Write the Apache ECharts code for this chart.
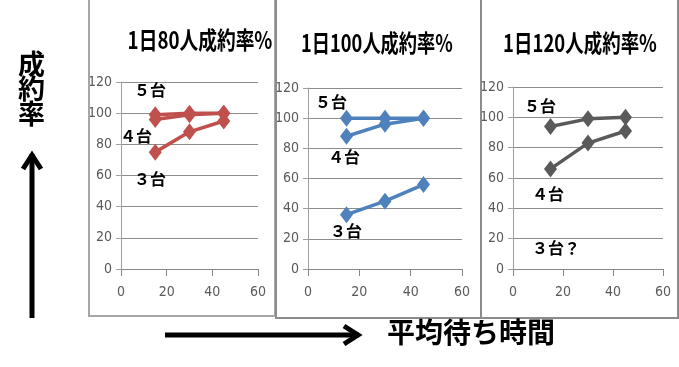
<!DOCTYPE html>
<html><head><meta charset="utf-8">
<script src="https://cdn.jsdelivr.net/npm/echarts@6/dist/echarts.min.js"></script>
<style>html,body{margin:0;padding:0;background:#fff}#c{width:679px;height:367px}</style>
</head><body><div id="c"></div>
<script>
const waitMinutes = [15, 30, 45];
const panelTitles = ['1日80人成約率%', '1日100人成約率%', '1日120人成約率%'];
const yTicks = [0, 20, 40, 60, 80, 100, 120];
const xTicks = [0, 20, 40, 60];
const p80_5 = [99, 100, 100];
const p80_4 = [96, 99, 100];
const p80_3 = [75, 88, 95];
const p100_5 = [100, 100, 100];
const p100_4 = [88, 96, 100];
const p100_3 = [36, 45, 56];
const p120_5 = [94, 99, 100];
const p120_4 = [66, 83, 91];
const annoTexts = ['５台', '４台', '３台', '３台？'];
const yAxisName = '成約率';
const xAxisName = '平均待ち時間';

const chart = echarts.init(document.getElementById('c'), null, {renderer: 'canvas'});
const grids = [
  {left: 121, right: 679 - 258, top: 82, bottom: 367 - 269},
  {left: 308, right: 679 - 462, top: 88, bottom: 367 - 269},
  {left: 513, right: 679 - 663, top: 87, bottom: 367 - 269}
];
const colors = ['#C0504D', '#4F81BD', '#5A5A5A'];
const tickFont = {color: '#595959', fontFamily: '"DejaVu Sans Condensed","Liberation Sans Narrow",sans-serif', fontSize: 14};
const xAxes = grids.map((g, i) => ({
  gridIndex: i, type: 'value', min: xTicks[0], max: xTicks[xTicks.length - 1], interval: 20,
  axisLine: {show: true, lineStyle: {color: '#868686', width: 1}},
  axisTick: {show: true, length: 7, lineStyle: {color: '#868686'}},
  splitLine: {show: false},
  axisLabel: Object.assign({margin: 16}, tickFont)
}));
const yAxes = grids.map((g, i) => ({
  gridIndex: i, type: 'value', min: yTicks[0], max: yTicks[yTicks.length - 1], interval: 20,
  axisLine: {show: true, lineStyle: {color: '#A0A0A0', width: 1}},
  axisTick: {show: true, length: 5, lineStyle: {color: '#A0A0A0'}},
  splitLine: {show: true, lineStyle: {color: '#8C8C8C', width: 1}},
  axisLabel: Object.assign({margin: 9}, tickFont)
}));
function mk(data, i) {
  return {
    type: 'line', xAxisIndex: i, yAxisIndex: i,
    data: waitMinutes.map((x, k) => [x, data[k]]),
    symbol: 'diamond', symbolSize: [13, 17],
    lineStyle: {color: colors[i], width: 3.5},
    itemStyle: {color: colors[i]},
    animation: false, z: 3
  };
}
const series = [
  mk(p80_5, 0), mk(p80_4, 0), mk(p80_3, 0),
  mk(p100_5, 1), mk(p100_4, 1), mk(p100_3, 1),
  mk(p120_5, 2), mk(p120_4, 2)
];
const titleStyle = {fill: '#000', font: 'bold 24px "Noto Sans CJK JP", sans-serif', textAlign: 'center', textVerticalAlign: 'middle'};
const annoStyle = {fill: '#000', font: 'bold 16px "Noto Sans CJK JP", sans-serif', textAlign: 'left', textVerticalAlign: 'middle'};
function anno(text, x, y) { return {type: 'text', left: x, top: y - 11, style: Object.assign({text: text}, annoStyle), z: 10}; }
const graphic = [
  {type: 'rect', shape: {x: 89, y: -2, width: 186, height: 318}, style: {fill: 'none', stroke: '#A6A6A6', lineWidth: 2}, z: 1},
  {type: 'rect', shape: {x: 276, y: -2, width: 205, height: 320}, style: {fill: 'none', stroke: '#8C8C8C', lineWidth: 2}, z: 2},
  {type: 'rect', shape: {x: 481, y: -2, width: 197, height: 320}, style: {fill: 'none', stroke: '#8C8C8C', lineWidth: 2}, z: 2},
  {type: 'text', x: 200, y: 40, scaleX: 0.78, style: Object.assign({text: panelTitles[0]}, titleStyle), z: 10},
  {type: 'text', x: 377, y: 43, scaleX: 0.76, style: Object.assign({text: panelTitles[1]}, titleStyle), z: 10},
  {type: 'text', x: 580, y: 43, scaleX: 0.77, style: Object.assign({text: panelTitles[2]}, titleStyle), z: 10},
  anno(annoTexts[0], 134, 93), anno(annoTexts[1], 120, 139), anno(annoTexts[2], 134, 182),
  anno(annoTexts[0], 315, 105), anno(annoTexts[1], 328, 160), anno(annoTexts[2], 330, 234),
  anno(annoTexts[0], 524, 109), anno(annoTexts[1], 532, 197), anno(annoTexts[3], 532, 251),
  {type: 'text', left: 18, top: 50, style: {text: yAxisName.split('').join('\n'), fill: '#000', font: 'bold 27px "Noto Sans CJK JP", sans-serif', lineHeight: 25}, z: 10},
  {type: 'line', shape: {x1: 32, y1: 318, x2: 32, y2: 154}, style: {stroke: '#000', lineWidth: 5}, z: 10},
  {type: 'polyline', shape: {points: [[23, 169], [32, 155], [41, 169]]}, style: {stroke: '#000', lineWidth: 5, fill: 'none', lineJoin: 'miter'}, z: 10},
  {type: 'line', shape: {x1: 165, y1: 335, x2: 359, y2: 335}, style: {stroke: '#000', lineWidth: 5}, z: 10},
  {type: 'polyline', shape: {points: [[344, 326], [358, 335], [344, 344]]}, style: {stroke: '#000', lineWidth: 5, fill: 'none', lineJoin: 'miter'}, z: 10},
  {type: 'text', left: 387, top: 318, style: {text: xAxisName, fill: '#000', font: 'bold 28px "Noto Sans CJK JP", sans-serif'}, z: 10}
];
chart.setOption({
  animation: false,
  backgroundColor: '#fff',
  grid: grids,
  xAxis: xAxes,
  yAxis: yAxes,
  series: series,
  graphic: graphic
});
</script></body></html>
